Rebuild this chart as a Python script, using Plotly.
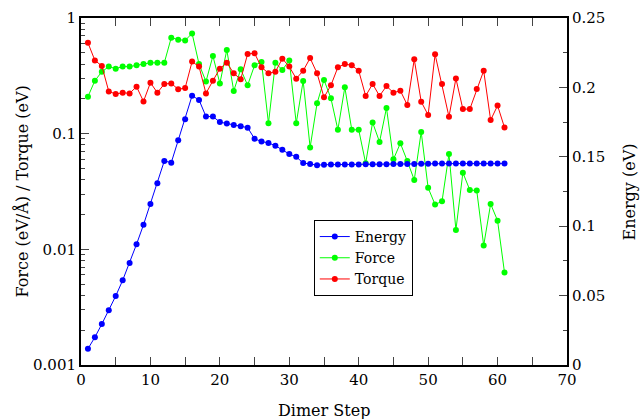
import plotly.graph_objects as go

steps = list(range(1, 62))

energy = [0.0117, 0.020, 0.0295, 0.0394, 0.0497, 0.061, 0.0735, 0.087, 0.101, 0.116,
          0.131, 0.147, 0.1458, 0.162, 0.177, 0.194, 0.191, 0.179, 0.179, 0.175,
          0.174, 0.173, 0.172, 0.171, 0.163, 0.161, 0.160, 0.158, 0.155, 0.152,
          0.150, 0.1455, 0.1448, 0.1440, 0.1443, 0.1444, 0.1444, 0.1444, 0.1445, 0.1445,
          0.1446, 0.1446, 0.1447, 0.1447, 0.1448, 0.1448, 0.1449, 0.1449, 0.1450, 0.1450,
          0.1451, 0.1451, 0.1451, 0.1451, 0.1451, 0.1451, 0.1451, 0.1451, 0.1451, 0.1451,
          0.1451]

force = [0.209, 0.287, 0.343, 0.38, 0.365, 0.38, 0.38, 0.39, 0.40, 0.41,
         0.41, 0.41, 0.676, 0.65, 0.64, 0.736, 0.40, 0.282, 0.47, 0.272,
         0.529, 0.234, 0.36, 0.262, 0.39, 0.417, 0.123, 0.41, 0.355, 0.43,
         0.123, 0.286, 0.076, 0.183, 0.291, 0.202, 0.108, 0.252, 0.108, 0.108,
         0.0555, 0.125, 0.0848, 0.167, 0.060, 0.0826, 0.058, 0.0398, 0.1035, 0.034,
         0.0244, 0.026, 0.0668, 0.0147, 0.046, 0.0326, 0.0322, 0.0108, 0.0247, 0.0177,
         0.0063]

torque = [0.61, 0.43, 0.385, 0.232, 0.22, 0.226, 0.223, 0.255, 0.19, 0.276,
          0.226, 0.269, 0.272, 0.242, 0.248, 0.42, 0.38, 0.223, 0.287, 0.365,
          0.41, 0.333, 0.295, 0.489, 0.495, 0.375, 0.333, 0.343, 0.445, 0.38,
          0.299, 0.35, 0.45, 0.333, 0.206, 0.262, 0.375, 0.40, 0.39, 0.35,
          0.212, 0.269, 0.212, 0.258, 0.226, 0.235, 0.177, 0.44, 0.189, 0.145,
          0.485, 0.269, 0.14, 0.30, 0.163, 0.163, 0.243, 0.35, 0.131, 0.175,
          0.113]

log_tickvals = [0.001, 0.01, 0.1, 1]
log_ticktext = ["0.001", "0.01", "0.1", "1"]

x_title = "Dimer Step"
y_title = "Force (eV/Å) / Torque (eV)"
y2_title = "Energy (eV)"

FONT = "DejaVu Serif"

fig = go.Figure()
fig.add_trace(go.Scatter(x=steps, y=energy, name="Energy", yaxis="y2",
                         mode="lines+markers", line=dict(color="#0000ff", width=1),
                         marker=dict(color="#0000ff", size=6)))
fig.add_trace(go.Scatter(x=steps, y=force, name="Force",
                         mode="lines+markers", line=dict(color="#00ff00", width=1),
                         marker=dict(color="#00ff00", size=6)))
fig.add_trace(go.Scatter(x=steps, y=torque, name="Torque",
                         mode="lines+markers", line=dict(color="#ff0000", width=1),
                         marker=dict(color="#ff0000", size=6)))

fig.update_layout(
    width=641, height=419,
    margin=dict(l=81, r=74, t=18, b=54),
    paper_bgcolor="white", plot_bgcolor="white",
    font=dict(family=FONT, size=15, color="black"),
    showlegend=True,
    legend=dict(x=0.479, y=0.418, xanchor="left", yanchor="top",
                bgcolor="white", bordercolor="black", borderwidth=1,
                font=dict(family=FONT, size=14), traceorder="normal",
                tracegroupgap=0, itemwidth=30),
    xaxis=dict(range=[0, 70], dtick=10, ticks="inside", ticklen=8, tickwidth=1,
               showline=True, linecolor="black", linewidth=2, mirror="allticks",
               showgrid=False, zeroline=False, automargin=False,
               minor=dict(ticks="inside", ticklen=4, dtick=5, showgrid=False),
               tickfont=dict(family=FONT, size=15)),
    yaxis=dict(type="log", range=[-3, 0], tickvals=log_tickvals, ticktext=log_ticktext,
               ticks="inside", ticklen=8, tickwidth=1,
               showline=True, linecolor="black", linewidth=2,
               showgrid=False, zeroline=False, automargin=False,
               minor=dict(ticks="inside", ticklen=4, dtick="D1", showgrid=False),
               tickfont=dict(family=FONT, size=15)),
    yaxis2=dict(overlaying="y", side="right", range=[0, 0.25], dtick=0.05,
                ticks="inside", ticklen=8, tickwidth=1,
                showline=True, linecolor="black", linewidth=2,
                showgrid=False, zeroline=False, automargin=False,
                minor=dict(ticks="inside", ticklen=4, dtick=0.025, showgrid=False),
                tickfont=dict(family=FONT, size=15)),
    annotations=[
        dict(text=x_title, xref="paper", yref="paper", x=0.5, y=-0.13,
             xanchor="center", yanchor="middle", showarrow=False,
             font=dict(family=FONT, size=16)),
        dict(text=y_title, xref="paper", yref="paper", x=-0.1214, y=0.5,
             xanchor="center", yanchor="middle", showarrow=False, textangle=-90,
             font=dict(family=FONT, size=16)),
        dict(text=y2_title, xref="paper", yref="paper", x=1.1296, y=0.5,
             xanchor="center", yanchor="middle", showarrow=False, textangle=-90,
             font=dict(family=FONT, size=16)),
    ],
)

fig.write_html("out.html")
